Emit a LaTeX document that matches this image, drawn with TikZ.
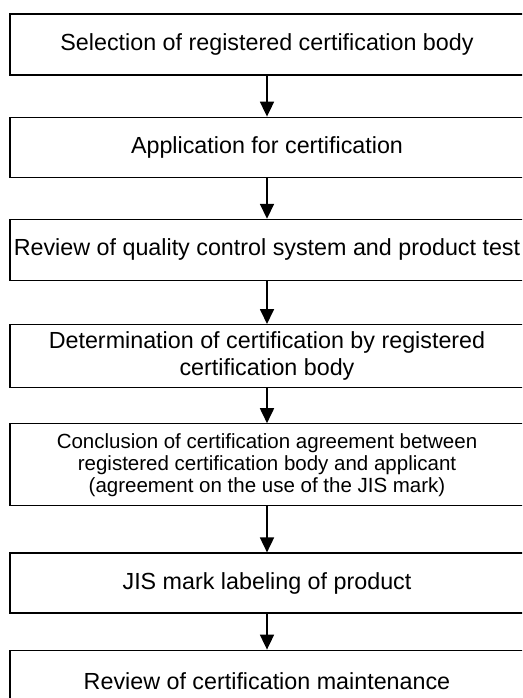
\documentclass[tikz,border=0pt]{standalone}
\usepackage{fontspec}
\setmainfont{Liberation Sans}
\usepackage{tikz}
\usetikzlibrary{arrows.meta,positioning}
\tikzset{stepbox/.style={draw,line width=1.2pt,minimum width=514pt,minimum height=61pt,inner sep=0pt,align=center,font=\fontsize{23.3}{27}\selectfont}}
\tikzset{flow/.style={line width=1.8pt,-{Triangle[length=15pt,width=14pt]}}}

\begin{document}
\begin{tikzpicture}[x=1pt,y=1pt]
    \useasboundingbox (0,0) rectangle (522,-698);
    \clip (0,0) rectangle (522,-698);
    \node [stepbox] (select) at (267,-44.5) {Selection of registered certification body};
    \node [stepbox,minimum height=60pt,below=41pt of select] (apply) {Application for certification};
    \node [stepbox,below=41pt of apply] (review) {Review of quality control system and product test};
    \node [stepbox,minimum height=63pt,below=43pt of review] (decide) {Determination of certification by registered\\certification body};
    \node [stepbox,minimum height=82pt,below=35pt of decide,font=\fontsize{20.5}{22}\selectfont] (agree) {Conclusion of certification agreement between\\registered certification body and applicant\\(agreement on the use of the JIS mark)};
    \node [stepbox,minimum height=60pt,below=46pt of agree] (label) {JIS mark labeling of product};
    \node [stepbox,minimum height=62pt,below=36pt of label] (maintain) {Review of certification maintenance};
    % arrows
    \draw [flow] (select) -- (apply);
    \draw [flow] (apply) -- (review);
    \draw [flow] (review) -- (decide);
    \draw [flow] (decide) -- (agree);
    \draw [flow] (agree) -- (label);
    \draw [flow] (label) -- (maintain);
\end{tikzpicture}
\end{document}
